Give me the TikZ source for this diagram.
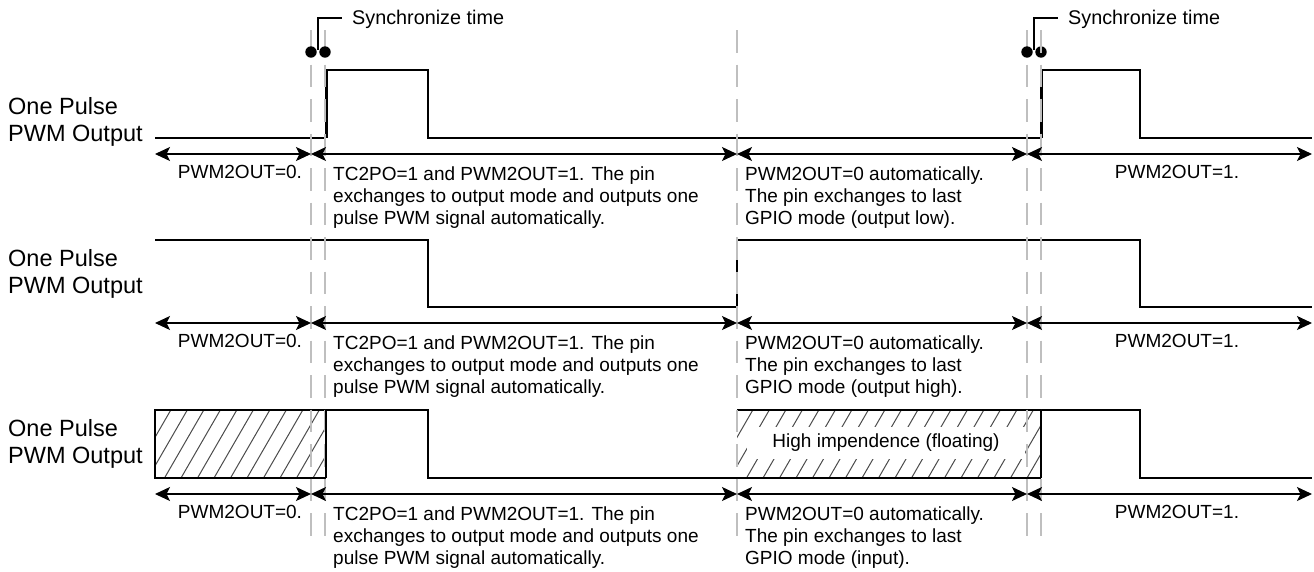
\documentclass[tikz,border=0pt]{standalone}
\usepackage{fontspec}
\setmainfont{Liberation Sans}
\usetikzlibrary{arrows.meta}
\newcommand\myhatch[2]{%
  \begin{scope}
    \clip (#1,410) rectangle (#2,478);
    \foreach \k in {0,...,24} {
      \pgfmathsetmacro\xx{#1-40+16.5*\k}
      \draw[hatchline] (\xx,478) -- ++(39.3,-68);
    }
  \end{scope}}
\begin{document}
\begin{tikzpicture}[x=1pt,y=-1pt,
  thinsig/.style={line width=1.3pt, line join=miter},
  thicksig/.style={line width=2.5pt, line join=miter},
  boxedge/.style={line width=1.8pt, line join=miter},
  hatchline/.style={draw=black!70, line width=1pt},
  gdash/.style={draw=black!25, line width=2.3pt, dash pattern=on 22.5pt off 12pt},
  dimline/.style={line width=1.2pt, {Stealth[length=15pt,width=14pt,inset=3.5pt]}-{Stealth[length=15pt,width=14pt,inset=3.5pt]}},
  leader/.style={line width=1.2pt},
  txt/.style={font=\fontsize{19}{22}\selectfont, align=left, inner sep=0pt, anchor=base west},
  ctxt/.style={font=\fontsize{19}{22}\selectfont, inner sep=0pt, anchor=base},
  stxt/.style={font=\fontsize{19.8}{22}\selectfont, inner sep=0pt, anchor=west},
  lbl/.style={font=\fontsize{23.5}{26.5}\selectfont, align=left, inner sep=0pt, anchor=base west},
  dot/.style={fill=black},
]
\useasboundingbox[fill=white] (0,0) rectangle (1314,571);

% ---------- hatched regions (row 3) ----------
\myhatch{155}{326}
\myhatch{737}{1041}
\node[fill=white, minimum width=278pt, minimum height=32pt, inner sep=0pt,
      font=\fontsize{19}{22}\selectfont] (hiz) at (886,443) {High impendence (floating)};
\draw[boxedge] (326,410) -- (155,410) -- (155,478) -- (326,478);
\draw[boxedge] (737,410) -- (1041,410);
\draw[boxedge] (737,478) -- (1041,478);

% ---------- row 1 signal ----------
\draw[thinsig] (155,138) -- (326,138);
\draw[thicksig] (326.5,138) -- (326.5,70) -- (428,70) -- (428,138) -- (737,138);
\draw[thinsig] (737,138) -- (1041,138);
\draw[thicksig] (1041.5,138) -- (1041.5,70) -- (1140,70) -- (1140,138) -- (1312,138);

% ---------- row 2 signal ----------
\draw[thinsig] (155,240) -- (326,240);
\draw[thicksig] (326,240) -- (428,240) -- (428,307) -- (737,307);
\draw[thinsig] (737,307) -- (737,240) -- (1041,240);
\draw[thicksig] (1041,240) -- (1140,240) -- (1140,307) -- (1312,307);

% ---------- row 3 signal ----------
\draw[thicksig] (326,410) -- (428,410) -- (428,478) -- (737,478);
\draw[thicksig] (1041,410) -- (1140,410) -- (1140,478) -- (1312,478);

% ---------- sync dot under gray ----------
\fill[dot] (1041,52) circle (5.7pt);

% ---------- gray dashed time markers ----------
\foreach \gx in {311,325,737,1027,1041}
  \draw[gdash] (\gx,30) -- (\gx,536);

% row 3 black edges on top
\draw[boxedge] (326,410) -- (326,478);
\draw[boxedge] (1041,410) -- (1041,478);

% ---------- dimension arrows and texts ----------
\foreach \ya/\lastline/\nm in {154/{GPIO mode (output low).}/a, 323/{GPIO mode (output high).}/b, 494/{GPIO mode (input).}/c} {
  \coordinate (\nm0) at (155,\ya);
  \coordinate (\nm1) at (311,\ya);
  \coordinate (\nm2) at (737,\ya);
  \coordinate (\nm3) at (1027,\ya);
  \coordinate (\nm4) at (1312,\ya);
  \draw[dimline] (\nm0) -- (\nm1);
  \draw[dimline] (\nm1) -- (\nm2);
  \draw[dimline] (\nm2) -- (\nm3);
  \draw[dimline] (\nm3) -- (\nm4);
  \node[ctxt] (\nm t0) at (240,\ya+24.5) {PWM2OUT=0.};
  \node[txt] (\nm t1) at (333,\ya+70) {TC2PO=1 and PWM2OUT=1. The pin\\exchanges to output mode and outputs one\\pulse PWM signal automatically.};
  \node[txt] (\nm t2) at (745,\ya+70) {PWM2OUT=0 automatically.\\The pin exchanges to last\\\lastline};
  \node[ctxt] (\nm t3) at (1177,\ya+24.5) {PWM2OUT=1.};
}

% ---------- row labels ----------
\node[lbl] (l1) at (8,141) {One Pulse\\PWM Output};
\node[lbl] (l2) at (8,293) {One Pulse\\PWM Output};
\node[lbl] (l3) at (8,463) {One Pulse\\PWM Output};

% ---------- synchronize markers ----------
\fill[dot] (311,52) circle (5.7pt);
\fill[dot] (325,52) circle (5.7pt);
\fill[dot] (1027,52) circle (5.7pt);
\coordinate (s1a) at (318,50);
\coordinate (s1b) at (318,18);
\coordinate (s1c) at (342,18);
\draw[leader] (s1a) -- (s1b) -- (s1c);
\node[stxt] (sync1) at (352,19) {Synchronize time};
\coordinate (s2a) at (1034,50);
\coordinate (s2b) at (1034,18);
\coordinate (s2c) at (1058,18);
\draw[leader] (s2a) -- (s2b) -- (s2c);
\node[stxt] (sync2) at (1068,19) {Synchronize time};
\end{tikzpicture}
\end{document}
